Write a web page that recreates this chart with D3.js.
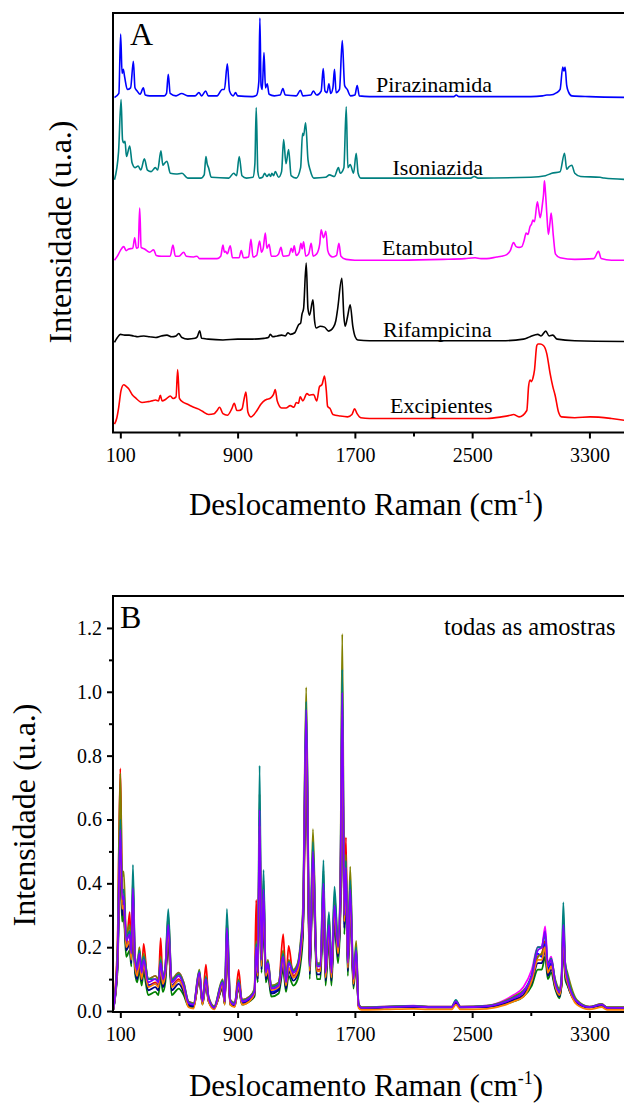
<!DOCTYPE html>
<html><head><meta charset="utf-8">
<script src="https://cdn.jsdelivr.net/npm/d3@7"></script>
<style>
body{margin:0;background:#fff}
svg{display:block}
text{font-family:"Liberation Serif","Times New Roman",serif;fill:#000}
</style>
</head><body>
<svg id="c" width="624" height="1104"></svg>
<script>
// ---------------- DATA ----------------
const xMajorTicks = [100, 900, 1700, 2500, 3300];
const xMinorTicks = [500, 1300, 2100, 2900];
const yMajorTicksB = [0.0, 0.2, 0.4, 0.6, 0.8, 1.0, 1.2];
const yMinorTicksB = [0.1, 0.3, 0.5, 0.7, 0.9, 1.1];

// Panel A: reference spectra [wavenumber, intensity above own baseline]
const componentNames = ["Pirazinamida", "Isoniazida", "Etambutol", "Rifampicina", "Excipientes"];
const componentOffsets = [4.006, 2.98, 1.975, 0.97, 0];
const componentColors = ["#0000ff", "#008080", "#ff00ff", "#000000", "#ff0000"];

const pirazinamida = [[60,0],[90,0.05],[102,0.79],[112,0.3],[120,0.35],[130,0.25],[148,0.1],[170,0.12],[189,0.45],[200,0.12],[215,0.08],[235,0.04],[257,0.12],[270,0.03],[300,0.02],[400,0.02],[415,0.05],[427,0.29],[440,0.05],[480,0.02],[518,0.05],[560,0.02],[610,0.02],[636,0.06],[655,0.02],[682,0.08],[700,0.02],[760,0.02],[795,0.1],[810,0.1],[830,0.42],[845,0.08],[870,0.02],[886,0.06],[900,0.02],[1000,0.01],[1030,0.03],[1045,0.2],[1052,0.99],[1060,0.15],[1068,0.1],[1080,0.56],[1090,0.12],[1102,0.17],[1115,0.04],[1150,0.02],[1190,0.03],[1209,0.11],[1225,0.03],[1300,0.02],[1329,0.09],[1345,0.02],[1400,0.03],[1416,0.08],[1440,0.03],[1470,0.08],[1484,0.36],[1496,0.08],[1510,0.06],[1523,0.17],[1535,0.05],[1550,0.12],[1561,0.35],[1572,0.06],[1595,0.1],[1614,0.71],[1630,0.15],[1648,0.1],[1670,0.02],[1700,0.03],[1716,0.15],[1730,0.02],[1800,0.01],[2300,0.01],[2375,0.01],[2391,0.03],[2410,0.01],[2900,0.01],[2980,0.02],[3009,0.03],[3030,0.03],[3077,0.06],[3100,0.1],[3118,0.38],[3126,0.33],[3134,0.38],[3145,0.15],[3157,0.07],[3180,0.02],[3300,0.01],[3600,0]];

const isoniazida = [[60,0],[88,0.35],[105,1.0],[115,0.5],[123,0.46],[132,0.48],[142,0.29],[164,0.42],[180,0.21],[200,0.15],[221,0.17],[240,0.12],[264,0.26],[285,0.12],[310,0.1],[339,0.15],[355,0.12],[377,0.36],[390,0.18],[400,0.2],[418,0.23],[441,0.08],[480,0.07],[521,0.08],[560,0.02],[650,0.02],[672,0.06],[684,0.29],[692,0.2],[702,0.15],[720,0.03],[840,0.02],[873,0.08],[893,0.05],[911,0.29],[930,0.05],[960,0.02],[1005,0.03],[1018,0.2],[1027,0.9],[1038,0.1],[1050,0.02],[1070,0.03],[1084,0.08],[1100,0.04],[1115,0.07],[1125,0.04],[1134,0.08],[1145,0.05],[1157,0.1],[1180,0.03],[1200,0.1],[1214,0.5],[1230,0.2],[1248,0.375],[1265,0.05],[1300,0.02],[1330,0.15],[1343,0.58],[1350,0.55],[1364,0.71],[1380,0.25],[1395,0.12],[1420,0.02],[1500,0.03],[1527,0.06],[1560,0.04],[1588,0.15],[1600,0.08],[1625,0.15],[1641,0.91],[1652,0.15],[1668,0.19],[1691,0.08],[1709,0.33],[1722,0.08],[1740,0.02],[2000,0.02],[2490,0.02],[2514,0.04],[2540,0.02],[2900,0.03],[3000,0.05],[3043,0.08],[3100,0.1],[3130,0.33],[3145,0.13],[3160,0.16],[3180,0.18],[3200,0.08],[3240,0.04],[3373,0.03],[3400,0.02],[3600,0]];

const etambutol = [[60,0],[80,0.05],[100,0.12],[123,0.17],[140,0.12],[157,0.14],[185,0.15],[198,0.28],[210,0.15],[222,0.16],[232,0.65],[242,0.16],[265,0.14],[300,0.1],[327,0.13],[345,0.06],[380,0.05],[440,0.05],[459,0.19],[475,0.05],[500,0.05],[532,0.1],[550,0.05],[600,0.04],[623,0.05],[640,0.02],[760,0.02],[785,0.05],[800,0.19],[810,0.1],[818,0.11],[830,0.08],[850,0.18],[865,0.03],[910,0.03],[925,0.12],[940,0.03],[975,0.04],[991,0.26],[1005,0.04],[1030,0.06],[1050,0.24],[1063,0.1],[1075,0.15],[1089,0.34],[1100,0.15],[1115,0.2],[1130,0.05],[1160,0.05],[1180,0.08],[1196,0.16],[1210,0.05],[1250,0.06],[1266,0.15],[1276,0.1],[1286,0.18],[1300,0.06],[1320,0.1],[1332,0.21],[1340,0.14],[1350,0.23],[1365,0.05],[1385,0.08],[1402,0.21],[1415,0.05],[1440,0.08],[1460,0.2],[1470,0.38],[1486,0.28],[1502,0.36],[1515,0.12],[1530,0.06],[1550,0.04],[1575,0.06],[1591,0.21],[1605,0.05],[1640,0.01],[1700,0],[2000,0],[2300,0.01],[2450,0.02],[2520,0.03],[2560,0.02],[2600,0.02],[2668,0.04],[2700,0.05],[2736,0.07],[2760,0.12],[2782,0.22],[2800,0.17],[2820,0.16],[2839,0.17],[2855,0.25],[2868,0.34],[2880,0.32],[2895,0.42],[2905,0.45],[2914,0.5],[2925,0.48],[2945,0.73],[2955,0.62],[2964,0.53],[2980,0.71],[2987,0.82],[2993,0.99],[3000,0.85],[3009,0.59],[3020,0.32],[3030,0.45],[3039,0.59],[3054,0.3],[3068,0.08],[3100,0.03],[3200,0.01],[3330,0.02],[3362,0.11],[3380,0.02],[3450,0],[3600,0]];

const rifampicina = [[60,-0.02],[80,0.04],[100,0.08],[130,0.07],[160,0.07],[190,0.06],[220,0.05],[260,0.06],[300,0.05],[340,0.04],[380,0.06],[418,0.07],[450,0.05],[480,0.06],[498,0.09],[520,0.04],[560,0.02],[610,0.03],[625,0.05],[641,0.125],[655,0.03],[700,0.02],[800,0.01],[900,0.02],[1000,0.02],[1080,0.03],[1110,0.04],[1123,0.08],[1140,0.05],[1170,0.06],[1200,0.07],[1225,0.06],[1243,0.1],[1260,0.08],[1290,0.1],[1316,0.2],[1330,0.22],[1339,0.33],[1350,0.4],[1368,0.97],[1380,0.4],[1391,0.32],[1414,0.51],[1425,0.25],[1436,0.16],[1464,0.18],[1493,0.17],[1521,0.12],[1554,0.17],[1570,0.25],[1582,0.39],[1611,0.78],[1625,0.3],[1634,0.18],[1650,0.3],[1668,0.45],[1686,0.18],[1702,0.05],[1720,0.01],[1800,0],[2700,0],[2850,0.02],[2895,0.05],[2948,0.08],[2970,0.06],[3002,0.12],[3025,0.06],[3050,0.07],[3080,0.02],[3200,0],[3600,-0.01]];

const excipientes = [[60,-0.07],[75,0],[89,0.14],[105,0.35],[123,0.42],[140,0.4],[157,0.37],[180,0.3],[202,0.26],[248,0.2],[290,0.21],[316,0.22],[340,0.23],[360,0.22],[373,0.29],[385,0.22],[410,0.24],[441,0.28],[460,0.25],[480,0.27],[491,0.61],[503,0.25],[530,0.2],[555,0.18],[600,0.14],[630,0.12],[660,0.09],[702,0.05],[740,0.06],[760,0.1],[777,0.14],[800,0.06],[830,0.04],[860,0.12],[877,0.19],[895,0.1],[910,0.1],[930,0.12],[945,0.25],[957,0.33],[970,0.08],[990,0.02],[1032,0.1],[1060,0.18],[1089,0.23],[1100,0.24],[1120,0.25],[1134,0.27],[1145,0.3],[1157,0.36],[1170,0.22],[1200,0.13],[1230,0.13],[1259,0.16],[1285,0.14],[1300,0.2],[1315,0.19],[1327,0.27],[1345,0.22],[1373,0.31],[1390,0.29],[1418,0.3],[1440,0.22],[1459,0.4],[1475,0.42],[1493,0.53],[1505,0.35],[1514,0.15],[1532,0.12],[1550,0.05],[1600,0.03],[1650,0.02],[1680,0.05],[1698,0.12],[1715,0.06],[1740,0.01],[1800,0],[2600,0],[2700,0.02],[2760,0.04],[2782,0.05],[2820,0.02],[2873,0.1],[2885,0.4],[2895,0.48],[2905,0.46],[2914,0.5],[2925,0.6],[2941,0.91],[2950,0.93],[2964,0.93],[2986,0.91],[3009,0.81],[3032,0.56],[3050,0.4],[3066,0.29],[3089,0.08],[3110,0.02],[3200,0.01],[3305,0.02],[3450,0],[3600,-0.04]];

// Panel B: all samples on a shared wavenumber grid
const wnB = [50,80,100,112,123,140,164,175,186,200,215,230,245,259,290,
339,360,375,390,407,427,450,498,532,565,600,639,660,684,702,
740,798,812,827,850,880,907,930,980,1015,1027,1038,1050,1063,1077,
1092,1107,1130,1180,1211,1230,1248,1280,1310,1330,1346,1368,1392,1414,1440,
1465,1486,1500,1523,1540,1561,1585,1600,1614,1628,1639,1652,1668,1690,1709,
1725,1745,1900,2100,2200,2300,2360,2389,2420,2600,2700,2782,2850,2907,2948,
2975,2998,3016,3039,3066,3095,3110,3122,3135,3150,3214,3300,3384,3420,3600];

const sampleRed = [0,0.2,0.76,0.4,0.33,0.2,0.31,0.17,0.3,0.15,0.12,0.17,0.11,0.21,0.08,
0.09,0.08,0.228,0.09,0.12,0.2,0.08,0.1,0.07,0.02,0.015,0.1,0.03,0.145,0.035,
0.01,0.07,0.025,0.18,0.025,0.02,0.129,0.03,0.035,0.06,0.348,0.11,0.5,0.15,0.3,
0.11,0.14,0.07,0.08,0.241,0.09,0.204,0.11,0.13,0.18,0.26,0.72,0.13,0.42,0.13,
0.13,0.33,0.11,0.23,0.11,0.3,0.19,0.3,0.78,0.28,0.544,0.14,0.34,0.09,0.17,
0.02,0.01,0.012,0.014,0.012,0.012,0.012,0.025,0.012,0.014,0.022,0.035,0.05,0.1,0.17,
0.18,0.22,0.12,0.15,0.08,0.05,0.08,0.22,0.12,0.09,0.03,0.012,0.018,0.01,0.01];

const sampleGreen = [0,0.12,0.45,0.28,0.3,0.17,0.19,0.14,0.32,0.12,0.09,0.13,0.08,0.12,0.05,
0.06,0.05,0.11,0.06,0.09,0.22,0.05,0.07,0.05,0.015,0.012,0.1,0.02,0.08,0.03,
0.008,0.07,0.02,0.21,0.02,0.015,0.07,0.02,0.03,0.045,0.16,0.09,0.5,0.12,0.3,
0.09,0.11,0.045,0.055,0.13,0.06,0.11,0.08,0.1,0.15,0.24,0.8,0.1,0.42,0.1,
0.1,0.33,0.08,0.22,0.08,0.27,0.15,0.28,0.85,0.24,0.38,0.11,0.32,0.07,0.15,
0.015,0.01,0.012,0.013,0.012,0.012,0.012,0.025,0.012,0.013,0.02,0.03,0.045,0.08,0.13,
0.13,0.17,0.1,0.12,0.07,0.04,0.08,0.22,0.1,0.08,0.025,0.012,0.018,0.01,0.01];

const sampleBlue = [0,0.14,0.53,0.33,0.34,0.2,0.22,0.16,0.36,0.145,0.115,0.16,0.105,0.145,0.08,
0.085,0.08,0.135,0.085,0.115,0.25,0.08,0.095,0.07,0.02,0.016,0.11,0.025,0.09,0.035,
0.01,0.08,0.025,0.24,0.025,0.018,0.08,0.025,0.035,0.055,0.18,0.11,0.58,0.14,0.35,
0.11,0.13,0.06,0.07,0.155,0.08,0.135,0.105,0.125,0.18,0.27,0.87,0.125,0.46,0.125,
0.125,0.37,0.105,0.25,0.105,0.3,0.18,0.31,0.92,0.27,0.42,0.135,0.35,0.09,0.17,
0.018,0.01,0.012,0.014,0.012,0.012,0.012,0.028,0.012,0.014,0.024,0.04,0.058,0.11,0.18,
0.17,0.21,0.13,0.15,0.085,0.055,0.095,0.25,0.13,0.095,0.028,0.012,0.02,0.01,0.01];

const sampleMagenta = [0,0.16,0.55,0.36,0.37,0.23,0.25,0.19,0.39,0.17,0.14,0.19,0.13,0.17,0.1,
0.11,0.1,0.16,0.11,0.14,0.28,0.1,0.12,0.09,0.03,0.025,0.125,0.035,0.105,0.045,
0.015,0.095,0.035,0.265,0.035,0.025,0.095,0.035,0.045,0.065,0.205,0.125,0.61,0.165,0.37,
0.125,0.155,0.075,0.085,0.175,0.095,0.155,0.125,0.145,0.205,0.3,0.9,0.145,0.49,0.145,
0.145,0.39,0.125,0.27,0.125,0.33,0.205,0.35,0.95,0.3,0.45,0.155,0.37,0.105,0.19,
0.022,0.012,0.014,0.017,0.014,0.014,0.014,0.03,0.014,0.017,0.03,0.05,0.075,0.13,0.2,
0.2,0.265,0.15,0.17,0.095,0.065,0.1,0.26,0.14,0.1,0.03,0.014,0.022,0.012,0.012];

const sampleOlive = [0,0.18,0.745,0.42,0.437,0.24,0.27,0.19,0.42,0.17,0.14,0.2,0.13,0.18,0.1,
0.11,0.1,0.17,0.11,0.14,0.3,0.1,0.12,0.09,0.03,0.025,0.13,0.035,0.11,0.045,
0.015,0.1,0.035,0.29,0.035,0.025,0.1,0.035,0.045,0.07,0.22,0.13,0.68,0.17,0.41,
0.13,0.16,0.08,0.09,0.19,0.1,0.16,0.13,0.15,0.22,0.33,1.014,0.15,0.57,0.15,
0.15,0.44,0.13,0.3,0.13,0.36,0.22,0.38,1.181,0.33,0.49,0.16,0.452,0.11,0.22,
0.025,0.012,0.014,0.016,0.014,0.014,0.014,0.032,0.014,0.017,0.027,0.045,0.065,0.1,0.17,
0.18,0.2,0.15,0.16,0.1,0.07,0.11,0.3,0.15,0.12,0.035,0.014,0.022,0.012,0.012];

const sampleNavy = [0,0.13,0.5,0.3,0.32,0.19,0.21,0.15,0.34,0.13,0.1,0.15,0.095,0.135,0.065,
0.075,0.065,0.125,0.075,0.105,0.24,0.065,0.085,0.06,0.018,0.014,0.105,0.022,0.085,0.032,
0.009,0.075,0.022,0.23,0.022,0.016,0.075,0.022,0.032,0.05,0.17,0.1,0.55,0.13,0.33,
0.1,0.12,0.055,0.065,0.145,0.07,0.125,0.095,0.115,0.17,0.26,0.85,0.115,0.45,0.115,
0.115,0.36,0.095,0.24,0.095,0.29,0.17,0.3,0.9,0.26,0.41,0.125,0.34,0.08,0.16,
0.016,0.009,0.011,0.013,0.011,0.011,0.011,0.026,0.011,0.013,0.021,0.034,0.05,0.09,0.15,
0.15,0.19,0.11,0.13,0.075,0.045,0.085,0.24,0.115,0.085,0.026,0.011,0.018,0.009,0.009];

const sampleTeal = [0,0.16,0.6,0.37,0.38,0.23,0.25,0.19,0.458,0.17,0.14,0.19,0.13,0.17,0.1,
0.1,0.095,0.16,0.105,0.14,0.319,0.095,0.115,0.085,0.028,0.022,0.125,0.032,0.105,0.042,
0.012,0.095,0.032,0.32,0.032,0.022,0.095,0.032,0.042,0.065,0.21,0.125,0.769,0.17,0.442,
0.125,0.155,0.075,0.085,0.18,0.095,0.155,0.125,0.145,0.21,0.31,0.97,0.145,0.53,0.145,
0.145,0.473,0.125,0.31,0.125,0.39,0.21,0.37,1.07,0.31,0.47,0.155,0.41,0.105,0.2,
0.022,0.011,0.013,0.016,0.013,0.013,0.013,0.035,0.013,0.016,0.026,0.042,0.062,0.115,0.2,
0.2,0.24,0.145,0.165,0.095,0.065,0.11,0.34,0.15,0.11,0.032,0.013,0.021,0.011,0.011];

const sampleOrange = [0,0.14,0.52,0.32,0.33,0.2,0.22,0.16,0.36,0.14,0.11,0.16,0.1,0.145,0.075,
0.085,0.075,0.135,0.085,0.115,0.25,0.075,0.095,0.07,0.012,0.008,0.11,0.02,0.09,0.03,
0.005,0.08,0.02,0.24,0.02,0.012,0.08,0.02,0.03,0.055,0.18,0.11,0.58,0.14,0.35,
0.11,0.13,0.065,0.075,0.155,0.08,0.135,0.105,0.125,0.18,0.28,0.88,0.125,0.47,0.125,
0.125,0.38,0.105,0.25,0.105,0.31,0.18,0.32,0.93,0.28,0.42,0.135,0.35,0.085,0.17,
0.01,0.004,0.005,0.007,0.005,0.005,0.005,0.02,0.005,0.007,0.016,0.03,0.045,0.095,0.16,
0.16,0.2,0.12,0.14,0.08,0.05,0.09,0.25,0.12,0.09,0.02,0.005,0.012,0.004,0.004];

const sampleViolet = [0,0.15,0.567,0.35,0.36,0.22,0.24,0.18,0.385,0.16,0.13,0.18,0.12,0.16,0.09,
0.1,0.09,0.15,0.1,0.13,0.27,0.09,0.11,0.08,0.025,0.02,0.12,0.03,0.1,0.04,
0.01,0.09,0.03,0.26,0.03,0.02,0.09,0.03,0.04,0.06,0.2,0.12,0.63,0.16,0.38,
0.12,0.15,0.07,0.08,0.17,0.09,0.15,0.12,0.14,0.2,0.3,0.944,0.14,0.5,0.14,
0.14,0.4,0.12,0.27,0.12,0.33,0.2,0.35,0.998,0.3,0.45,0.15,0.38,0.1,0.19,
0.02,0.01,0.012,0.015,0.012,0.012,0.012,0.03,0.012,0.015,0.025,0.04,0.06,0.11,0.19,
0.2,0.25,0.14,0.16,0.09,0.06,0.1,0.27,0.14,0.1,0.03,0.012,0.02,0.01,0.01];

const sampleSeries = [sampleRed, sampleGreen, sampleBlue, sampleMagenta, sampleOlive, sampleNavy, sampleTeal, sampleOrange, sampleViolet];
const sampleColors = ["#ff0000", "#008000", "#0000ff", "#ff00ff", "#808000", "#000080", "#008080", "#ff8000", "#8000ff"];

// ---------------- DRAWING ----------------
const svg = d3.select("#c");
const SERIF = '"Liberation Serif", "Times New Roman", serif';
const FS_TICK = 20, FS_XTITLE = 31, FS_YTITLE = 32;

function xAxisAndTitle(g, x, yBottom) {
  const maj = g.append("g").attr("transform", `translate(0,${yBottom})`)
    .call(d3.axisBottom(x).tickValues(xMajorTicks).tickSize(6).tickFormat(d3.format("d")));
  maj.select(".domain").remove();
  maj.selectAll("line").attr("stroke", "#000").attr("stroke-width", 2);
  maj.selectAll("text").attr("y", 29).attr("dy", 0)
    .style("font-family", SERIF).style("font-size", FS_TICK + "px");
  const mn = g.append("g").attr("transform", `translate(0,${yBottom})`)
    .call(d3.axisBottom(x).tickValues(xMinorTicks).tickSize(4).tickFormat(""));
  mn.select(".domain").remove();
  mn.selectAll("line").attr("stroke", "#000").attr("stroke-width", 2);
}

function title(g, cx, y) {
  const t = g.append("text").attr("x", cx).attr("y", y).attr("text-anchor", "middle")
    .style("font-family", SERIF).style("font-size", FS_XTITLE + "px");
  t.append("tspan").text("Deslocamento Raman (cm");
  t.append("tspan").attr("dy", -12).style("font-size", "18px").text("-1");
  t.append("tspan").attr("dy", 12).text(")");
}

function yTitle(g, xBase, cy) {
  g.append("text").attr("transform", `translate(${xBase},${cy}) rotate(-90)`)
    .attr("text-anchor", "middle").style("font-family", SERIF).style("font-size", FS_YTITLE + "px")
    .text("Intensidade (u.a.)");
}

// ---- Panel A ----
{
  const L = 113, T = 13, B = 432.5, R = 633.4;
  const x = d3.scaleLinear().domain([50, 3600]).range([L, R]);
  const y = d3.scaleLinear().domain([-0.175, 5.06]).range([B, T]);
  const g = svg.append("g");
  const spectra = [pirazinamida, isoniazida, etambutol, rifampicina, excipientes];
  const line = d3.line().curve(d3.curveMonotoneX);
  spectra.forEach((s, i) => {
    line.x(d => x(d[0])).y(d => y(d[1] + componentOffsets[i]));
    g.append("path").attr("d", line(s)).attr("fill", "none")
      .attr("stroke", componentColors[i]).attr("stroke-width", 1.6).attr("stroke-linejoin", "round");
  });
  g.append("rect").attr("x", L).attr("y", T).attr("width", R - L).attr("height", B - T)
    .attr("fill", "none").attr("stroke", "#000").attr("stroke-width", 2);
  xAxisAndTitle(g, x, B);
  title(g, 366, 515);
  yTitle(g, 71, 232);
  g.append("text").attr("x", 130).attr("y", 45).style("font-family", SERIF).style("font-size", "32px").text("A");
  const labelPos = [[376, 91.5], [392.5, 175], [382, 255], [383, 336.5], [390, 413]];
  componentNames.forEach((n, i) => {
    g.append("text").attr("x", labelPos[i][0]).attr("y", labelPos[i][1])
      .style("font-family", SERIF).style("font-size", "22px").text(n);
  });
}

// ---- Panel B ----
{
  const L = 113, T = 596, B = 1012, R = 633.4;
  const x = d3.scaleLinear().domain([50, 3600]).range([L, R]);
  const y = d3.scaleLinear().domain([-0.003, 1.3]).range([B, T]);
  const g = svg.append("g");
  const line = d3.line().x((d, i) => x(wnB[i])).y(d => y(d)).curve(d3.curveMonotoneX);
  sampleSeries.forEach((s, i) => {
    g.append("path").attr("d", line(s)).attr("fill", "none")
      .attr("stroke", sampleColors[i]).attr("stroke-width", 1.8).attr("stroke-linejoin", "round");
  });
  g.append("rect").attr("x", L).attr("y", T).attr("width", R - L).attr("height", B - T)
    .attr("fill", "none").attr("stroke", "#000").attr("stroke-width", 2);
  xAxisAndTitle(g, x, B);
  const ya = g.append("g").attr("transform", `translate(${L},0)`)
    .call(d3.axisLeft(y).tickValues(yMajorTicksB).tickSize(6).tickPadding(5).tickFormat(d3.format(".1f")));
  ya.select(".domain").remove();
  ya.selectAll("line").attr("stroke", "#000").attr("stroke-width", 2);
  ya.selectAll("text").style("font-family", SERIF).style("font-size", FS_TICK + "px");
  const ym = g.append("g").attr("transform", `translate(${L},0)`)
    .call(d3.axisLeft(y).tickValues(yMinorTicksB).tickSize(4).tickFormat(""));
  ym.select(".domain").remove();
  ym.selectAll("line").attr("stroke", "#000").attr("stroke-width", 2);
  title(g, 366, 1096);
  yTitle(g, 35, 815);
  g.append("text").attr("x", 120).attr("y", 628).style("font-family", SERIF).style("font-size", "32px").text("B");
  g.append("text").attr("x", 444).attr("y", 635).style("font-family", SERIF).style("font-size", "24.5px").text("todas as amostras");
}
</script>
</body></html>
